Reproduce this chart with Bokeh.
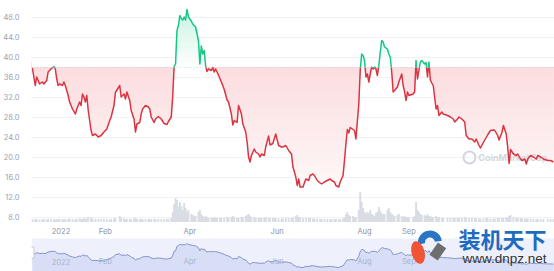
import numpy as np
import pandas as pd
from bokeh.plotting import figure
from bokeh.models import (Range1d, FixedTicker, PrintfTickFormatter, Label, LabelSet,
                          ColumnDataSource, Span)
from bokeh.embed import file_html
from bokeh.resources import INLINE
from bokeh.core.properties import value

# ---------------- data ----------------
dates = [
    "2021-12-12", "2021-12-14", "2021-12-15", "2021-12-17", "2021-12-19", "2021-12-20", "2021-12-22", "2021-12-23",
    "2021-12-25", "2021-12-27", "2021-12-28", "2021-12-29", "2021-12-30", "2021-12-31", "2022-01-02", "2022-01-03",
    "2022-01-04", "2022-01-06", "2022-01-07", "2022-01-09", "2022-01-11", "2022-01-12", "2022-01-14", "2022-01-15",
    "2022-01-16", "2022-01-17", "2022-01-18", "2022-01-19", "2022-01-20", "2022-01-22", "2022-01-23", "2022-01-25",
    "2022-01-27", "2022-01-29", "2022-01-31", "2022-02-02", "2022-02-04", "2022-02-05", "2022-02-07", "2022-02-08",
    "2022-02-11", "2022-02-12", "2022-02-14", "2022-02-15", "2022-02-16", "2022-02-18", "2022-02-19", "2022-02-21",
    "2022-02-22", "2022-02-23", "2022-02-25", "2022-02-26", "2022-02-27", "2022-03-01", "2022-03-03", "2022-03-04",
    "2022-03-05", "2022-03-07", "2022-03-08", "2022-03-10", "2022-03-12", "2022-03-14", "2022-03-16", "2022-03-17",
    "2022-03-19", "2022-03-20", "2022-03-21", "2022-03-22", "2022-03-23", "2022-03-24", "2022-03-25", "2022-03-26",
    "2022-03-27", "2022-03-28", "2022-03-29", "2022-03-30", "2022-03-31", "2022-04-02", "2022-04-03", "2022-04-04",
    "2022-04-05", "2022-04-07", "2022-04-08", "2022-04-09", "2022-04-10", "2022-04-11", "2022-04-12", "2022-04-13",
    "2022-04-14", "2022-04-16", "2022-04-17", "2022-04-18", "2022-04-19", "2022-04-20", "2022-04-22", "2022-04-23",
    "2022-04-25", "2022-04-27", "2022-04-28", "2022-04-30", "2022-05-01", "2022-05-02", "2022-05-04", "2022-05-05",
    "2022-05-07", "2022-05-08", "2022-05-10", "2022-05-11", "2022-05-12", "2022-05-13", "2022-05-14", "2022-05-16",
    "2022-05-17", "2022-05-19", "2022-05-20", "2022-05-21", "2022-05-23", "2022-05-24", "2022-05-26", "2022-05-27",
    "2022-05-29", "2022-05-30", "2022-05-31", "2022-06-02", "2022-06-04", "2022-06-05", "2022-06-07", "2022-06-09",
    "2022-06-11", "2022-06-12", "2022-06-14", "2022-06-15", "2022-06-16", "2022-06-17", "2022-06-19", "2022-06-21",
    "2022-06-23", "2022-06-24", "2022-06-26", "2022-06-27", "2022-06-29", "2022-07-01", "2022-07-02", "2022-07-04",
    "2022-07-06", "2022-07-08", "2022-07-09", "2022-07-11", "2022-07-12", "2022-07-14", "2022-07-15", "2022-07-17",
    "2022-07-18", "2022-07-19", "2022-07-20", "2022-07-21", "2022-07-22", "2022-07-24", "2022-07-25", "2022-07-26",
    "2022-07-28", "2022-07-29", "2022-07-30", "2022-07-31", "2022-08-01", "2022-08-02", "2022-08-03", "2022-08-04",
    "2022-08-05", "2022-08-06", "2022-08-07", "2022-08-08", "2022-08-09", "2022-08-10", "2022-08-11", "2022-08-12",
    "2022-08-13", "2022-08-14", "2022-08-15", "2022-08-17", "2022-08-18", "2022-08-19", "2022-08-20", "2022-08-21",
    "2022-08-22", "2022-08-24", "2022-08-25", "2022-08-27", "2022-08-28", "2022-08-29", "2022-08-30", "2022-08-31",
    "2022-09-01", "2022-09-04", "2022-09-05", "2022-09-06", "2022-09-07", "2022-09-08", "2022-09-09", "2022-09-10",
    "2022-09-12", "2022-09-13", "2022-09-14", "2022-09-15", "2022-09-16", "2022-09-17", "2022-09-18", "2022-09-20",
    "2022-09-21", "2022-09-22", "2022-09-24", "2022-09-25", "2022-09-28", "2022-09-30", "2022-10-02", "2022-10-03",
    "2022-10-05", "2022-10-06", "2022-10-08", "2022-10-10", "2022-10-11", "2022-10-13", "2022-10-15", "2022-10-17",
    "2022-10-18", "2022-10-20", "2022-10-21", "2022-10-23", "2022-10-25", "2022-10-26", "2022-10-28", "2022-10-30",
    "2022-10-31", "2022-11-02", "2022-11-03", "2022-11-05", "2022-11-06", "2022-11-08", "2022-11-09", "2022-11-10",
    "2022-11-11", "2022-11-13", "2022-11-15", "2022-11-16", "2022-11-18", "2022-11-19", "2022-11-21", "2022-11-22",
    "2022-11-23", "2022-11-25", "2022-11-27", "2022-11-29", "2022-11-30", "2022-12-02", "2022-12-04", "2022-12-07",
    "2022-12-09", "2022-12-11",
]

prices = [
    37.9, 34.4, 36.1, 34.7, 35.1, 34.7, 35.4, 37.1, 37.7, 38.2, 37.7, 35.7, 34.4, 34.7, 34.4, 35.1,
    34.4, 32.4, 31.1, 29.7, 28.7, 29.7, 31.1, 30.4, 32.7, 32.1, 31.1, 32.4, 29.4, 25.4, 24.4, 24.7,
    24.1, 24.4, 25.1, 25.7, 27.4, 28.1, 30.4, 33.0, 34.4, 32.1, 32.7, 31.7, 33.1, 31.4, 29.4, 27.7,
    25.1, 26.7, 27.0, 28.7, 29.7, 30.4, 30.1, 29.7, 28.1, 27.0, 27.7, 28.2, 27.7, 26.8, 26.6, 27.2,
    28.1, 32.1, 38.2, 38.7, 45.4, 46.4, 48.4, 47.8, 47.5, 48.1, 47.5, 49.6, 48.1, 47.3, 46.7, 46.4,
    46.1, 43.4, 38.7, 42.3, 40.7, 41.4, 38.3, 37.2, 37.7, 37.4, 38.0, 37.1, 37.7, 37.1, 35.8, 35.1,
    33.6, 31.5, 31.1, 28.7, 26.5, 27.4, 27.0, 30.4, 28.7, 26.7, 25.1, 23.1, 20.1, 19.1, 20.4, 21.7,
    21.1, 20.7, 20.1, 20.7, 20.4, 22.1, 24.3, 22.5, 22.8, 23.8, 24.7, 22.4, 22.1, 22.1, 22.4, 21.4,
    20.7, 18.1, 16.1, 14.4, 15.7, 14.1, 14.1, 15.7, 15.4, 16.4, 16.7, 16.4, 15.4, 14.9, 14.7, 15.1,
    15.4, 15.7, 15.4, 15.1, 14.4, 14.1, 15.1, 16.4, 19.4, 22.7, 25.6, 24.9, 26.0, 25.6, 25.4, 23.7,
    30.7, 37.4, 40.7, 40.4, 39.4, 36.1, 36.7, 35.1, 36.7, 38.1, 37.7, 38.1, 37.7, 36.4, 38.4, 41.1,
    43.4, 43.1, 42.1, 41.7, 40.7, 40.1, 37.1, 33.1, 33.4, 34.1, 35.1, 36.7, 34.4, 33.1, 31.4, 33.1,
    32.4, 32.7, 33.1, 39.4, 35.7, 37.4, 39.1, 39.4, 38.7, 39.0, 36.1, 39.1, 35.5, 34.9, 34.4, 29.7,
    30.4, 28.4, 29.1, 28.7, 28.4, 28.1, 27.7, 27.1, 27.7, 28.1, 27.7, 27.1, 24.4, 23.7, 23.7, 23.1,
    23.7, 22.4, 21.9, 23.0, 24.0, 24.5, 25.4, 25.5, 25.4, 24.4, 23.5, 25.0, 26.4, 24.7, 22.1, 18.8,
    21.6, 20.7, 20.4, 20.7, 19.7, 19.4, 19.7, 18.7, 19.7, 20.4, 20.1, 19.7, 20.4, 20.1, 19.7, 19.4,
    19.4, 19.1,
]

volumes = [
    3, 3, 3, 2.5, 3, 3, 2.5, 3, 3, 3, 2.5, 3, 3, 3, 3, 2.5, 3, 3, 3.5, 3,
    3, 3, 3.5, 3, 3, 4, 3, 3.5, 5, 4.5, 3.5, 3, 3, 3, 3, 3, 2.5, 3, 3.5, 4,
    6, 4, 3.5, 3, 3, 3, 3, 3.5, 4, 3, 3, 3, 3, 3, 3, 3, 3, 3, 3, 3, 3, 3, 3, 3, 4,
    10, 18, 24, 22, 15, 20, 16, 12, 19, 14, 10, 12, 8, 7, 6, 6, 10, 12, 8, 6, 5, 6, 5, 4, 4, 4, 5, 4, 4, 4,
    4, 4, 5, 4, 5, 6, 5, 4, 4, 5, 5, 6, 7, 8, 6, 5, 5, 4, 4, 4, 4, 4, 5, 4, 4, 4, 4, 4, 3.5, 3.5, 3.5, 4, 4, 4, 5,
    6, 7, 5, 5, 4, 4, 4, 4, 3.5, 3.5, 3.5, 3, 3, 3, 3, 3, 3, 3, 3, 3, 3, 3.5,
    5, 8, 10, 7, 6, 6, 5, 5, 12, 30, 20, 14, 10, 8, 10, 9, 12, 8, 7, 6, 9, 10, 15, 11, 9, 8, 8, 12, 14, 10,
    8, 7, 6, 7, 8, 6, 5, 6, 5, 5, 5, 5, 6,
    20, 12, 10, 8, 7, 7, 6, 8, 6, 6, 5, 5, 6, 5, 5, 4, 4, 4, 4, 4, 4, 4, 4, 4, 5, 4, 4, 4, 4, 4,
    3.5, 3.5, 3.5, 4, 4, 3.5, 3.5, 3.5, 4, 4, 4, 4, 5, 4, 6, 7, 5, 4, 4, 4, 3.5, 3.5, 3.5, 3.5, 3.5,
    3, 3, 3, 3, 3, 3, 3, 3,
]

open_price = 38.0
price_ticks = [8, 12, 16, 20, 24, 28, 32, 36, 40, 44, 48]
month_ticks = ["2022-01-01", "2022-02-01", "2022-04-01", "2022-06-01", "2022-08-01", "2022-09-01"]
month_labels = ["2022", "Feb", "Apr", "Jun", "Aug", "Sep"]

assert len(dates) == len(prices) == len(volumes), (len(dates), len(prices), len(volumes))

# ---------------- layout / style constants ----------------
W, H = 554, 271
LEFT = 25
FRAME_W = W - LEFT
PX_PER_UNIT = 5.0          # price scale: 5 px per USD
TOP_VALUE = 51.4           # price at top edge of frame
VOL_BASE_PX = 221.5        # volume baseline (px from top)
VOL_PX = 1.0               # px per volume unit
NAV_TOP_PX = 238           # navigator band top
NAV_LINE_TOP_PX, NAV_LINE_BOT_PX = 243, 267

RED = (234, 57, 67)
GREEN = (22, 199, 132)
RED_LINE = "#dc3340"
GREEN_LINE = "#16c784"
FONT = "Inter"


def ms(s):
    return pd.Timestamp(s).value / 1e6


def tint(rgb, a):
    r, g, b = (int(round(255 - (255 - c) * a)) for c in rgb)
    return f"#{r:02x}{g:02x}{b:02x}"


x = np.array([ms(d) for d in dates])
y = np.array(prices, dtype=float)
vol = np.array(volumes, dtype=float)

x0, x1 = ms("2021-12-11 09:00"), ms("2022-12-11 17:00")


def canvas_x_to_data(px):
    return x0 + (px - LEFT) / FRAME_W * (x1 - x0)


def canvas_y_to_price(py):
    return TOP_VALUE - py / PX_PER_UNIT


p = figure(width=W, height=H, x_range=Range1d(x0, x1),
           y_range=Range1d(TOP_VALUE - H / PX_PER_UNIT, TOP_VALUE),
           x_axis_type="datetime", x_axis_location=None, y_axis_location="left",
           output_backend="svg", toolbar_location=None,
           min_border_left=LEFT, min_border_right=0, min_border_top=0, min_border_bottom=0)
p.outline_line_color = None
p.background_fill_color = "white"
p.border_fill_color = "white"
p.xgrid.visible = False
p.ygrid.ticker = FixedTicker(ticks=price_ticks)
p.ygrid.grid_line_color = "#eff1f4"

ax = p.yaxis[0]
ax.ticker = FixedTicker(ticks=price_ticks)
ax.formatter = PrintfTickFormatter(format="%.1f")
ax.major_label_overrides = {t: ("\u2007" + f"{t:.1f}" if t < 10 else f"{t:.1f}") for t in price_ticks}
ax.axis_line_color = None
ax.major_tick_line_color = None
ax.minor_tick_line_color = None
ax.major_label_standoff = 6
ax.major_label_text_font = FONT
ax.major_label_text_font_size = "7.5px"
ax.major_label_text_color = "#9aa1ad"

# extra ranges: volume and navigator
nav_scale = (NAV_LINE_BOT_PX - NAV_LINE_TOP_PX) / (y.max() - y.min())


def nav_val(px):
    return y.max() - (px - NAV_LINE_TOP_PX) / nav_scale


p.extra_y_ranges = {
    "vol": Range1d(-(H - VOL_BASE_PX) / VOL_PX, VOL_BASE_PX / VOL_PX),
    "nav": Range1d(nav_val(H), nav_val(0)),
}

# volume bars
p.vbar(x=x, top=vol, bottom=0, width=1.3 * 86400000, y_range_name="vol",
       fill_color="#d9dce3", line_color=None)

# ---- split line at the open price ----
xa, ya = [x[0]], [y[0]]
for i in range(1, len(y)):
    a, b = y[i - 1], y[i]
    if (a - open_price) * (b - open_price) < 0:
        f = (open_price - a) / (b - a)
        xa.append(x[i - 1] + f * (x[i] - x[i - 1]))
        ya.append(open_price)
    xa.append(x[i])
    ya.append(b)
xa = np.array(xa)
ya = np.array(ya)

# gradient fills: stacked opaque layers, each painting over the upper part
RED_LOW, RED_MAX = 7.0, 0.17
for lo in np.arange(RED_LOW, open_price, 1.0):
    a = RED_MAX * (lo + 0.5 - RED_LOW) / (open_price - RED_LOW)
    p.varea(x=xa, y1=np.clip(ya, lo, open_price), y2=open_price, fill_color=tint(RED, a))
GREEN_TOP, GREEN_MAX = 50.0, 0.24
for lo in np.arange(open_price, GREEN_TOP, 1.0):
    a = GREEN_MAX * (lo + 0.5 - open_price) / (GREEN_TOP - open_price)
    p.varea(x=xa, y1=lo, y2=np.maximum(ya, lo), fill_color=tint(GREEN, a))

# CoinMarketCap watermark: above the fill, under the line
p.text(x=[canvas_x_to_data(477)], y=[canvas_y_to_price(157)], text=["CoinMarketCap"],
       text_font=value(FONT), text_font_size="9px", text_font_style="bold",
       text_color="#d3d6dc", text_baseline="middle", text_align="left")
p.scatter(x=[canvas_x_to_data(468)], y=[canvas_y_to_price(157)], marker="circle", size=12,
          fill_color=None, line_color="#d3d6dc", line_width=2)

p.add_layout(Span(location=open_price, dimension="width", line_color="#b0b6c3",
                  line_dash="1 2", line_width=1, line_alpha=0.5))

red_y = np.where(ya <= open_price, ya, np.nan)
green_y = np.where(ya >= open_price, ya, np.nan)
p.line(xa, red_y, line_color=RED_LINE, line_width=1.5, line_join="round")
p.line(xa, green_y, line_color=GREEN_LINE, line_width=1.5, line_join="round")

# open price marker on the axis
p.add_layout(Label(x=-22, y=open_price, x_units="screen", y_units="data", text="38.0",
                   text_font=FONT, text_font_size="7.5px", text_color="white",
                   text_baseline="middle", text_align="left",
                   background_fill_color="#858b96", padding=3))

# x labels under the main chart
tick_src = ColumnDataSource(dict(x=[ms(d) for d in month_ticks], text=month_labels,
                                 y=[H - 230.5] * len(month_ticks), yn=[H - 261] * len(month_ticks)))
p.add_layout(LabelSet(x="x", y="y", x_units="data", y_units="screen", text="text", source=tick_src,
                      text_font=value(FONT), text_font_size="7.5px", text_color="#8a93a4",
                      text_align="center", text_baseline="middle"))
p.add_layout(Label(x=-20, y=H - 230.5, x_units="screen", y_units="screen", text="USD",
                   text_font=FONT, text_font_size="7.5px", text_font_style="bold",
                   text_color="#616e85", text_baseline="middle"))

# navigator
p.quad(left=[x0], right=[x1], bottom=[nav_val(H)], top=[nav_val(NAV_TOP_PX)], y_range_name="nav",
       fill_color="#eef1fb", line_color=None)
p.varea(x=x, y1=nav_val(H), y2=y, y_range_name="nav", fill_color="#d8def5")
p.line(x, y, y_range_name="nav", line_color="#8593c9", line_width=1)
p.add_layout(LabelSet(x="x", y="yn", x_units="data", y_units="screen", text="text", source=tick_src,
                      text_font=value(FONT), text_font_size="7.5px", text_color="#a9b3cc",
                      text_align="center", text_baseline="middle"))
p.rect(x=[x0], y=[nav_val(252)], width=5, height=11, width_units="screen", height_units="screen",
       y_range_name="nav", fill_color="white", line_color="#c6cbd8", line_width=1)

# site watermark (overlay)
p.annular_wedge(x=[canvas_x_to_data(428)], y=[nav_val(242)], inner_radius=5, outer_radius=12,
                inner_radius_units="screen", outer_radius_units="screen",
                start_angle=0.15, end_angle=3.3, y_range_name="nav",
                fill_color="#2b74c6", line_color=None)
p.ellipse(x=[canvas_x_to_data(416)], y=[nav_val(252)], width=13, height=23, angle=0.25,
          width_units="screen", height_units="screen", y_range_name="nav",
          fill_color="#ef5434", line_color=None)
p.rect(x=[canvas_x_to_data(436)], y=[nav_val(251)], width=10, height=15, angle=-0.6,
       width_units="screen", height_units="screen", y_range_name="nav",
       fill_color="#6e6e6e", line_color=None)
p.add_layout(Label(x=427, y=H - 237, x_units="screen", y_units="screen", text="装机天下",
                   text_font="Noto Sans CJK SC", text_font_size="22px", text_font_style="bold",
                   text_color="#1f6cbf", text_baseline="middle", text_align="left"))
p.add_layout(Label(x=431, y=H - 258, x_units="screen", y_units="screen", text="www.dnpz.net",
                   text_font="Liberation Sans", text_font_size="13.5px",
                   text_color="#333333", text_baseline="middle", text_align="left"))

open("out.html", "w").write(file_html(p, INLINE))
